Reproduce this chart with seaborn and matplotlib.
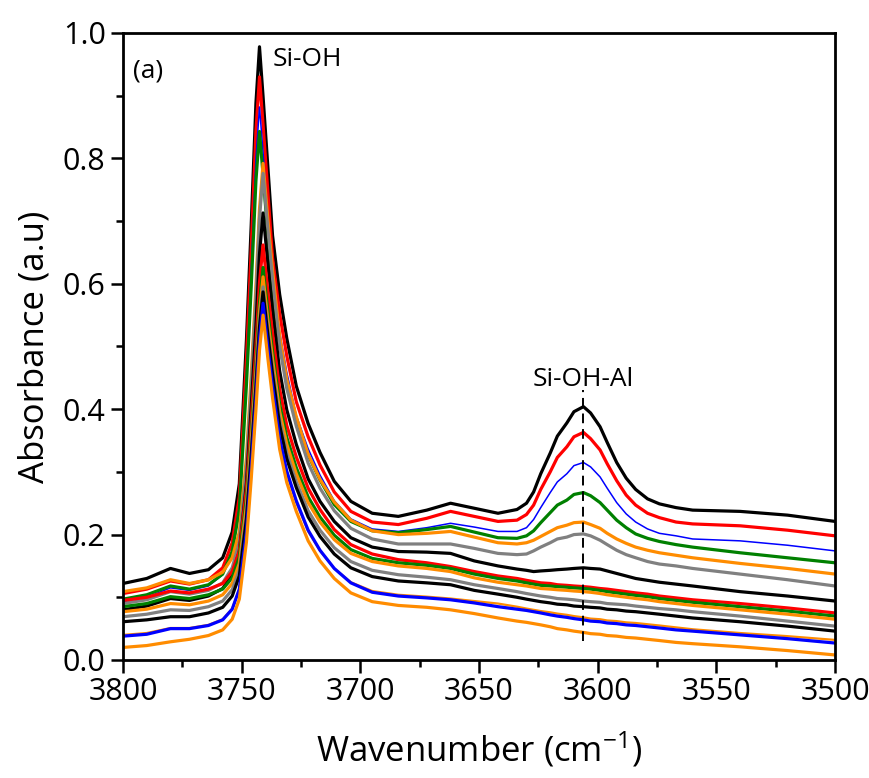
import matplotlib
matplotlib.use("Agg")
import matplotlib.pyplot as plt
import seaborn as sns
from matplotlib.ticker import MultipleLocator, FormatStrFormatter

wavenumber = [3800, 3790, 3780, 3772, 3764, 3758, 3754, 3751, 3748, 3746, 3744, 3742.5, 3741,
              3739, 3737, 3734, 3731, 3727, 3722, 3717, 3711, 3704, 3695, 3684, 3672, 3662,
              3652, 3642, 3634, 3630, 3627, 3624, 3620, 3617, 3613, 3610, 3606, 3603, 3599,
              3596, 3592, 3588, 3584, 3579, 3574, 3567, 3560, 3540, 3520, 3500]

# Absorbance of each spectrum, top to bottom at 3500 cm-1
black_1 = [0.122, 0.130, 0.146, 0.138, 0.144, 0.163, 0.204, 0.281, 0.510, 0.692, 0.888, 0.978, 0.899,
           0.788, 0.677, 0.583, 0.513, 0.437, 0.377, 0.331, 0.285, 0.253, 0.234, 0.229, 0.239, 0.250,
           0.242, 0.234, 0.240, 0.250, 0.268, 0.297, 0.330, 0.357, 0.378, 0.396, 0.404, 0.394, 0.372,
           0.347, 0.315, 0.290, 0.272, 0.257, 0.249, 0.243, 0.239, 0.237, 0.231, 0.221]
red_1 = [0.106, 0.113, 0.126, 0.121, 0.128, 0.147, 0.187, 0.260, 0.481, 0.654, 0.843, 0.930, 0.854,
         0.748, 0.641, 0.552, 0.485, 0.412, 0.356, 0.311, 0.268, 0.237, 0.220, 0.216, 0.226, 0.237,
         0.229, 0.221, 0.223, 0.232, 0.247, 0.272, 0.300, 0.323, 0.340, 0.356, 0.363, 0.353, 0.335,
         0.313, 0.286, 0.263, 0.247, 0.234, 0.227, 0.220, 0.217, 0.214, 0.207, 0.198]
blue_1 = [0.093, 0.100, 0.115, 0.111, 0.118, 0.136, 0.174, 0.244, 0.455, 0.619, 0.799, 0.882, 0.810,
          0.709, 0.607, 0.523, 0.459, 0.390, 0.337, 0.295, 0.254, 0.225, 0.209, 0.205, 0.211, 0.218,
          0.212, 0.205, 0.205, 0.211, 0.224, 0.243, 0.267, 0.284, 0.297, 0.310, 0.315, 0.308, 0.292,
          0.274, 0.251, 0.233, 0.220, 0.209, 0.202, 0.198, 0.193, 0.190, 0.183, 0.174]
green_1 = [0.097, 0.104, 0.118, 0.113, 0.120, 0.137, 0.173, 0.239, 0.439, 0.594, 0.764, 0.843, 0.774,
           0.679, 0.583, 0.503, 0.443, 0.378, 0.327, 0.287, 0.248, 0.221, 0.206, 0.203, 0.208, 0.213,
           0.204, 0.195, 0.194, 0.198, 0.206, 0.219, 0.235, 0.247, 0.255, 0.264, 0.267, 0.262, 0.251,
           0.239, 0.223, 0.211, 0.201, 0.194, 0.189, 0.184, 0.180, 0.171, 0.163, 0.155]
orange_1 = [0.109, 0.115, 0.128, 0.122, 0.128, 0.140, 0.163, 0.204, 0.323, 0.453, 0.596, 0.719, 0.792,
            0.704, 0.622, 0.516, 0.448, 0.388, 0.328, 0.288, 0.252, 0.223, 0.206, 0.200, 0.202, 0.205,
            0.196, 0.187, 0.185, 0.187, 0.191, 0.197, 0.205, 0.211, 0.215, 0.219, 0.220, 0.216, 0.210,
            0.202, 0.193, 0.186, 0.180, 0.175, 0.171, 0.167, 0.163, 0.154, 0.146, 0.137]
gray_1 = [0.090, 0.096, 0.109, 0.105, 0.111, 0.123, 0.147, 0.188, 0.307, 0.437, 0.580, 0.704, 0.776,
          0.688, 0.607, 0.501, 0.433, 0.373, 0.314, 0.274, 0.238, 0.210, 0.193, 0.185, 0.185, 0.185,
          0.178, 0.170, 0.168, 0.169, 0.174, 0.180, 0.187, 0.193, 0.196, 0.200, 0.201, 0.198, 0.191,
          0.184, 0.175, 0.168, 0.163, 0.157, 0.153, 0.150, 0.146, 0.137, 0.128, 0.118]
black_2 = [0.080, 0.086, 0.098, 0.095, 0.102, 0.114, 0.136, 0.173, 0.282, 0.402, 0.533, 0.647, 0.713,
           0.633, 0.558, 0.461, 0.399, 0.344, 0.289, 0.253, 0.221, 0.195, 0.180, 0.173, 0.172, 0.170,
           0.158, 0.150, 0.145, 0.143, 0.141, 0.142, 0.143, 0.144, 0.145, 0.146, 0.147, 0.146, 0.145,
           0.142, 0.138, 0.134, 0.130, 0.127, 0.124, 0.121, 0.118, 0.109, 0.102, 0.094]
red_2 = [0.095, 0.100, 0.110, 0.107, 0.113, 0.122, 0.141, 0.174, 0.273, 0.381, 0.500, 0.602, 0.662,
         0.588, 0.521, 0.432, 0.374, 0.324, 0.274, 0.240, 0.208, 0.184, 0.169, 0.160, 0.155, 0.149,
         0.141, 0.134, 0.130, 0.127, 0.125, 0.123, 0.122, 0.120, 0.119, 0.118, 0.117, 0.116, 0.114,
         0.113, 0.111, 0.109, 0.107, 0.105, 0.102, 0.099, 0.096, 0.090, 0.083, 0.075]
green_2 = [0.085, 0.090, 0.101, 0.098, 0.104, 0.113, 0.131, 0.164, 0.257, 0.360, 0.472, 0.569, 0.626,
           0.557, 0.492, 0.408, 0.355, 0.307, 0.260, 0.228, 0.199, 0.176, 0.162, 0.155, 0.151, 0.146,
           0.137, 0.130, 0.126, 0.123, 0.121, 0.119, 0.118, 0.117, 0.116, 0.115, 0.114, 0.113, 0.111,
           0.109, 0.107, 0.105, 0.103, 0.101, 0.098, 0.095, 0.092, 0.085, 0.078, 0.070]
orange_2 = [0.077, 0.081, 0.090, 0.088, 0.094, 0.104, 0.122, 0.154, 0.246, 0.348, 0.458, 0.554, 0.611,
            0.542, 0.479, 0.396, 0.344, 0.297, 0.251, 0.220, 0.192, 0.170, 0.157, 0.150, 0.146, 0.141,
            0.131, 0.124, 0.120, 0.118, 0.116, 0.114, 0.113, 0.112, 0.111, 0.110, 0.109, 0.108, 0.106,
            0.104, 0.102, 0.100, 0.098, 0.096, 0.093, 0.090, 0.087, 0.080, 0.073, 0.065]
gray_2 = [0.069, 0.073, 0.080, 0.079, 0.085, 0.094, 0.112, 0.143, 0.234, 0.335, 0.445, 0.540, 0.595,
          0.528, 0.465, 0.383, 0.330, 0.284, 0.238, 0.207, 0.179, 0.157, 0.143, 0.136, 0.132, 0.128,
          0.120, 0.114, 0.109, 0.106, 0.104, 0.102, 0.100, 0.098, 0.097, 0.096, 0.094, 0.093, 0.092,
          0.090, 0.089, 0.088, 0.086, 0.084, 0.082, 0.080, 0.077, 0.070, 0.062, 0.054]
black_3 = [0.061, 0.064, 0.069, 0.069, 0.075, 0.084, 0.102, 0.134, 0.225, 0.326, 0.436, 0.531, 0.587,
           0.520, 0.456, 0.374, 0.321, 0.275, 0.228, 0.197, 0.169, 0.147, 0.133, 0.126, 0.123, 0.120,
           0.111, 0.105, 0.100, 0.097, 0.095, 0.093, 0.091, 0.089, 0.088, 0.086, 0.085, 0.084, 0.083,
           0.081, 0.080, 0.078, 0.077, 0.075, 0.073, 0.070, 0.067, 0.061, 0.054, 0.046]
orange_3 = [0.040, 0.043, 0.051, 0.051, 0.056, 0.065, 0.082, 0.113, 0.203, 0.301, 0.411, 0.505, 0.560,
            0.492, 0.430, 0.349, 0.297, 0.251, 0.205, 0.174, 0.146, 0.124, 0.110, 0.104, 0.101, 0.098,
            0.094, 0.090, 0.085, 0.082, 0.080, 0.078, 0.076, 0.074, 0.072, 0.070, 0.068, 0.066, 0.065,
            0.063, 0.062, 0.060, 0.059, 0.057, 0.055, 0.052, 0.049, 0.043, 0.038, 0.032]
blue_2 = [0.038, 0.041, 0.050, 0.050, 0.055, 0.064, 0.081, 0.113, 0.205, 0.306, 0.417, 0.513, 0.569,
          0.500, 0.436, 0.353, 0.301, 0.254, 0.207, 0.175, 0.146, 0.123, 0.108, 0.102, 0.099, 0.096,
          0.091, 0.085, 0.081, 0.079, 0.077, 0.075, 0.072, 0.070, 0.068, 0.066, 0.064, 0.062, 0.061,
          0.059, 0.058, 0.056, 0.055, 0.053, 0.051, 0.048, 0.046, 0.040, 0.034, 0.027]
orange_4 = [0.020, 0.023, 0.029, 0.033, 0.039, 0.048, 0.065, 0.097, 0.188, 0.288, 0.399, 0.494, 0.550,
            0.482, 0.418, 0.336, 0.283, 0.237, 0.190, 0.158, 0.130, 0.107, 0.093, 0.087, 0.084, 0.080,
            0.074, 0.067, 0.062, 0.060, 0.058, 0.056, 0.053, 0.050, 0.048, 0.046, 0.044, 0.042, 0.041,
            0.039, 0.038, 0.036, 0.035, 0.033, 0.031, 0.028, 0.026, 0.021, 0.015, 0.008]

BLACK, RED, BLUE, GREEN, ORANGE, GRAY = '#000000', '#ff0000', '#0000ff', '#008000', '#ff8c00', '#808080'

# (values, colour, line width)
spectra = [
    (black_1, BLACK, 2.3), (red_1, RED, 2.3), (blue_1, BLUE, 1.1), (green_1, GREEN, 2.3),
    (orange_1, ORANGE, 2.3), (gray_1, GRAY, 2.3), (black_2, BLACK, 2.3), (red_2, RED, 2.3),
    (green_2, GREEN, 2.3), (orange_2, ORANGE, 2.3), (gray_2, GRAY, 2.3), (black_3, BLACK, 2.3),
    (orange_3, ORANGE, 1.6), (blue_2, BLUE, 2.3), (orange_4, ORANGE, 2.3),
]

# annotation positions
sioh_al_pos = 3606

sns.set_style("ticks")
plt.rcParams['font.family'] = ['Open Sans', 'DejaVu Sans']
plt.rcParams['mathtext.default'] = 'regular'
plt.rcParams['text.color'] = 'black'
plt.rcParams['axes.labelcolor'] = 'black'
plt.rcParams['lines.solid_joinstyle'] = 'round'

fig = plt.figure(figsize=(8.7, 7.78), dpi=100)
ax = fig.add_axes([0.1414, 0.1517, 0.8184, 0.8059])

for vals, col, lw in spectra:
    sns.lineplot(x=wavenumber, y=vals, color=col, linewidth=lw, ax=ax,
                 estimator=None, sort=False)

ax.set_xlim(3800, 3500)
ax.set_ylim(0, 1.0)

ax.xaxis.set_major_locator(MultipleLocator(50))
ax.xaxis.set_minor_locator(MultipleLocator(25))
ax.yaxis.set_major_locator(MultipleLocator(0.2))
ax.yaxis.set_minor_locator(MultipleLocator(0.1))
ax.yaxis.set_major_formatter(FormatStrFormatter('%.1f'))

ax.tick_params(which='major', direction='out', length=9, width=1.8, labelsize=22,
               top=False, right=False, colors='black')
ax.tick_params(which='minor', direction='out', length=5, width=1.8, top=False, right=False,
               colors='black')
for sp in ax.spines.values():
    sp.set_linewidth(2)
    sp.set_color('black')

ax.set_xlabel('Wavenumber (cm$^{-1}$)', fontsize=25, labelpad=16)
ax.set_ylabel('Absorbance (a.u)', fontsize=25, labelpad=8)

# peak markers
ax.vlines(sioh_al_pos, 0.03, 0.43, colors='black', linestyles=(0, (5, 3)), linewidth=1.4)
ax.text(sioh_al_pos, 0.447, 'Si-OH-Al', fontsize=19, ha='center', va='center')
ax.text(3737, 0.957, 'Si-OH', fontsize=19, ha='left', va='center')
ax.text(3796, 0.94, '(a)', fontsize=19, ha='left', va='center')

fig.savefig('out.png', dpi=100)
